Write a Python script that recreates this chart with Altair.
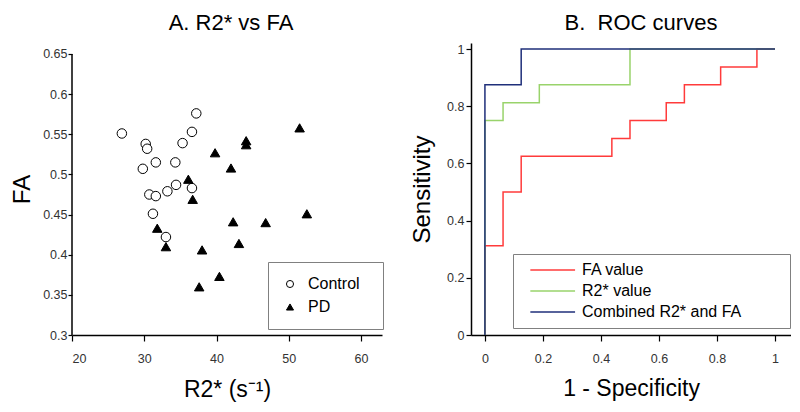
import altair as alt
import pandas as pd

# ---------------- Panel A data (R2* vs FA) ----------------
ctrl_r2 = [26.9, 30.2, 30.4, 31.6, 29.8, 30.7, 31.6, 33.2, 34.4, 34.3, 35.3, 36.6, 37.2, 36.6, 31.2, 33.0]
ctrl_fa = [0.551, 0.538, 0.532, 0.515, 0.507, 0.475, 0.473, 0.479, 0.487, 0.515, 0.539, 0.553, 0.576, 0.483, 0.451, 0.422]
pd_r2 = [51.5, 44.1, 44.1, 39.8, 42.0, 36.1, 36.7, 52.5, 42.3, 46.8, 43.1, 38.0, 31.8, 33.0, 40.4, 37.6]
pd_fa = [0.558, 0.542, 0.537, 0.527, 0.508, 0.494, 0.469, 0.451, 0.441, 0.440, 0.414, 0.406, 0.433, 0.410, 0.373, 0.360]
groups = ["Control", "PD"]

# ---------------- Panel B data (ROC curves) ----------------
fa_x = [0, 0, 0.0625, 0.125, 0.4375, 0.5, 0.625, 0.6875, 0.8125, 0.9375, 1]
fa_y = [0, 0.3125, 0.5, 0.625, 0.6875, 0.75, 0.8125, 0.875, 0.9375, 1, 1]
r2_x = [0, 0, 0.0625, 0.1875, 0.5, 1]
r2_y = [0, 0.75, 0.8125, 0.875, 1, 1]
cb_x = [0, 0, 0.125, 1]
cb_y = [0, 0.875, 1, 1]
series = ["FA value", "R2* value", "Combined R2* and FA"]
series_colors = ["#ff3b3b", "#99d36b", "#1f2f7a"]

FONT = "Liberation Sans"


def pad_expr(n):
    # widen legend box with non-breaking spaces, closed by a zero-width char so they are kept
    return "datum.label + '" + "\u00a0" * n + "\u200b'"


scatter_df = pd.DataFrame({
    "r2": ctrl_r2 + pd_r2,
    "fa": ctrl_fa + pd_fa,
    "group": [groups[0]] * len(ctrl_r2) + [groups[1]] * len(pd_r2),
})

rows = []
for name, xs, ys in zip(series, [fa_x, r2_x, cb_x], [fa_y, r2_y, cb_y]):
    for i, (a, b) in enumerate(zip(xs, ys)):
        rows.append({"fpr": a, "tpr": b, "curve": name, "idx": i})
roc_df = pd.DataFrame(rows)

H = 292

# ---------------- Panel A ----------------
xA = alt.X("r2:Q", scale=alt.Scale(domain=[20, 62.9], nice=False, zero=False),
           axis=alt.Axis(values=[20, 30, 40, 50, 60], title="R2* (s\u207b\u00b9)",
                         tickSize=6, labelPadding=11, titlePadding=14,
                         titleFontSize=23, labelFontSize=12.5))
yA = alt.Y("fa:Q", scale=alt.Scale(domain=[0.3, 0.6637], nice=False, zero=False),
           axis=alt.Axis(values=[0.3, 0.35, 0.4, 0.45, 0.5, 0.55, 0.6, 0.65], format=".2~f",
                         title="FA", domain=False, tickSize=4, labelPadding=1,
                         titlePadding=8, titleFontSize=24, labelFontSize=12.5))

legA = alt.Legend(title=None, orient="none", legendX=196, legendY=219,
                  labelFontSize=16, labelFont=FONT, labelColor="black", labelLimit=300,
                  symbolSize=50, symbolStrokeWidth=1,
                  padding=14, rowPadding=7, labelOffset=10,
                  labelExpr=pad_expr(2),
                  strokeColor="#808080", fillColor="white")

pts = alt.Chart(scatter_df).mark_point(filled=True, strokeWidth=1, size=90, opacity=1).encode(
    x=xA, y=yA,
    shape=alt.Shape("group:N", scale=alt.Scale(domain=groups, range=["circle", "triangle-up"]), legend=legA),
    fill=alt.Fill("group:N", scale=alt.Scale(domain=groups, range=["white", "black"]), legend=legA),
    stroke=alt.Stroke("group:N", scale=alt.Scale(domain=groups, range=["black", "black"]), legend=legA),
)

yaxis_line = alt.Chart(pd.DataFrame({"lo": [0.3], "hi": [0.65]})).mark_rule(color="black", strokeWidth=1.5).encode(
    x=alt.value(0),
    y=alt.Y("lo:Q", scale=alt.Scale(domain=[0.3, 0.6637], nice=False, zero=False)),
    y2="hi:Q",
)

panelA = alt.layer(pts, yaxis_line).properties(
    width=310, height=H,
    title=alt.TitleParams("A. R2* vs FA", fontSize=22, font=FONT, fontWeight="normal",
                          dx=4, offset=8, color="black"),
)

# ---------------- Panel B ----------------
xB = alt.X("fpr:Q", scale=alt.Scale(domain=[-0.048, 1.055], nice=False, zero=False),
           axis=alt.Axis(values=[0, 0.2, 0.4, 0.6, 0.8, 1], format="~g", title="1 - Specificity",
                         tickSize=6, labelPadding=11, titlePadding=13,
                         titleFontSize=23, labelFontSize=12.5))
yB = alt.Y("tpr:Q", scale=alt.Scale(domain=[0, 1.021], nice=False, zero=False),
           axis=alt.Axis(values=[0, 0.2, 0.4, 0.6, 0.8, 1], format="~g", title="Sensitivity",
                         tickSize=5, labelPadding=2, titlePadding=12,
                         titleFontSize=24, labelFontSize=12.5))
colorB = alt.Color("curve:N", scale=alt.Scale(domain=series, range=series_colors),
                   legend=alt.Legend(title=None, orient="none", legendX=441, legendY=211,
                                     labelFontSize=16, labelFont=FONT, labelColor="black", labelLimit=300,
                                     symbolType="M0.3,0H10.3", symbolSize=80, symbolStrokeWidth=1.5,
                                     padding=8, rowPadding=5, labelOffset=45,
                                     labelExpr=pad_expr(9),
                                     strokeColor="#808080", fillColor="white"))

lines = []
for name in series:
    lines.append(
        alt.Chart(roc_df).transform_filter(alt.datum.curve == name)
        .mark_line(interpolate="step-after", strokeWidth=1.5)
        .encode(x=xB, y=yB, color=colorB, order="idx:Q")
    )

panelB = alt.layer(*lines).properties(
    width=320, height=H,
    title=alt.TitleParams("B.\u00a0 ROC curves", fontSize=22, font=FONT, fontWeight="normal",
                          dx=10, offset=8, color="black"),
)

chart = alt.hconcat(panelA, panelB, spacing=28).properties(
    padding={"left": 2, "top": 4, "right": 0, "bottom": 0}
).configure_view(stroke=None).configure_axis(
    grid=False, domainColor="black", domainWidth=1.5, tickColor="black", tickWidth=1.2,
    labelColor="#333333", labelFont=FONT, titleFont=FONT, titleFontWeight="normal",
    titleColor="black",
).configure_legend(labelFont=FONT)

chart.save("out.html", embed_options={"renderer": "svg", "actions": False})
